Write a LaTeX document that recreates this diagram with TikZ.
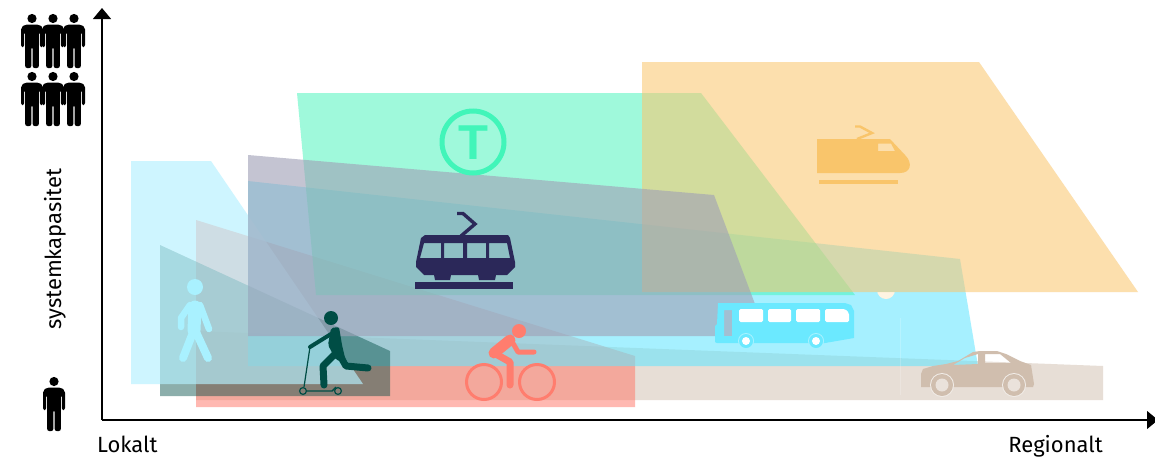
\documentclass[tikz,border=0pt]{standalone}
\usepackage{fontspec}
\setmainfont{Fira Sans}
\newfontfamily\tfont{Liberation Sans}[BoldFont={Liberation Sans Bold}]
\usetikzlibrary{arrows.meta}
\definecolor{cWalk}{RGB}{182,241,255}
\definecolor{cWalkIcon}{HTML}{A9F1FF}
\definecolor{cScoot}{HTML}{004D45}
\definecolor{cRed}{RGB}{255,115,100}
\definecolor{cRedIcon}{HTML}{FF7D6E}
\definecolor{cBeige}{HTML}{D0BEAE}
\definecolor{cBus}{RGB}{99,230,255}
\definecolor{cBusIcon}{HTML}{6BE9FF}
\definecolor{cTram}{RGB}{160,160,183}
\definecolor{cMetro}{HTML}{41F5B9}
\definecolor{cTrain}{RGB}{250,198,109}
\definecolor{cNavy}{HTML}{2B2859}
\definecolor{cIcon}{HTML}{F9C56B}
\tikzset{
  axisline/.style={line width=1.2pt,-{Triangle[width=18pt,length=11pt]}},
  lab/.style={font=\fontsize{22}{24}\selectfont,inner sep=0pt},
  person/.pic={
    \fill (0,4.5) circle[radius=4.6pt];
    \fill[rounded corners=2pt] (-7,10.5)--(7,10.5)--(11,13.5)--(11,33)--(7.8,33)--(7.8,18)--(6.8,18)--(6.8,54)--(0.7,54)--(0.6,33)--(-0.6,33)--(-0.7,54)--(-6.8,54)--(-6.8,18)--(-7.8,18)--(-7.8,33)--(-11,33)--(-11,13.5)--cycle;
  },
}
\begin{document}
\begin{tikzpicture}[x=1pt,y=-1pt]
\useasboundingbox (0,0) rectangle (1155,458);
\fill[white] (0,0) rectangle (1155,458);
% bands
\fill[cBeige,opacity=.5] (196,331)--(1103,366)--(1103,400)--(196,400)--cycle;
\fill[cRed,opacity=.5] (196,220)--(635,356)--(635,407)--(196,407)--cycle;
\fill[cBus,opacity=.57] (248,181)--(960,259)--(978,366)--(248,366)--cycle;
\fill[cScoot,opacity=.45] (160,245)--(390,351)--(390,396)--(160,396)--cycle;
\begin{scope}
\clip (800,292) rectangle (960,320);
\fill[white!80!cTrain] (886,290) circle[radius=9pt];
\end{scope}
\fill[cMetro,opacity=.5] (297,93)--(701,93)--(855,295)--(316,295)--cycle;
\fill[cTrain,opacity=.56] (642,62)--(979,62)--(1138,292)--(642,292)--cycle;
\fill[cWalk,opacity=.66] (131,161)--(211,161)--(363,384)--(131,384)--cycle;
\fill[cTram,opacity=.61] (248,155)--(714,195)--(767,336)--(248,336)--cycle;
\draw[white,opacity=.2,line width=.6pt] (900,318)--(900,395);
% axes
\coordinate (origin) at (102,420);
\coordinate (ytop) at (102,8);
\coordinate (xend) at (1158,420);
\draw[axisline] (origin)--(ytop);
\draw[axisline] (origin)--(xend);
\node[lab,anchor=base west] (lokalt) at (97,452) {Lokalt};
\node[lab,anchor=base east] (regionalt) at (1103,452) {Regionalt};
\node[lab,rotate=90,anchor=base] (syskap) at (61,249) {systemkapasitet};
% people
\begin{scope}[black]
\foreach \px in {74,32,53}{
 \pic at (\px,14) {person};
 \pic at (\px,72) {person};
}
\pic at (54,377) {person};
\end{scope}
% metro
\draw[cMetro,line width=5pt] (473,142) circle[radius=31pt];
\node[inner sep=0pt,text=cMetro,font=\fontsize{49}{49}\selectfont\tfont\bfseries] (tsign) at (473,142.5) {T};
% tram
\fill[cNavy,even odd rule]
 (425,235)--(508,235)--(510,238)--(515,262)--(515,267)--(507,275)--(496,275)--(495,280)--(479,280)--(478,275)--(451,275)--(450,280)--(435,280)--(434,275)--(424,275)--(416,267)--(416,262)--(421,238)--cycle
 (424,243)--(441,243)--(441,258)--(420,258)--cycle
 (444,243)--(463,243)--(463,258)--(444,258)--cycle
 (467,243)--(486,243)--(486,258)--(467,258)--cycle
 (489,243)--(507,243)--(510,258)--(489,258)--cycle;
\fill[cNavy] (415,282) rectangle (513,289);
\draw[cNavy,line width=3.4pt] (457,213.5)--(463,213.5)--(475,224)--(461,236);
% train
\fill[cIcon,even odd rule] (817,139)--(890,139)--(905,155) .. controls (913,163) and (911,173) .. (900,173)--(817,173)--cycle
 (878,143.5)--(891,143.5)--(895,151)--(878,151)--cycle;
\fill[cIcon] (819,180) rectangle (898,184);
\draw[cIcon,line width=2.4pt] (855,126.5)--(860,126.5)--(872,133)--(857,139);
% bus
\fill[cBusIcon,even odd rule]
 (718,303)--(845,303)--(851,305)--(854,311)--(854,338)--(825,343)--(717,343)--(715,342)--(715,326)--(717,324)--cycle
 (724,310)--(732,310)--(732,336)--(724,336)--cycle;
\fill[white,rounded corners=1.5pt] (739,309) rectangle (763,322);
\fill[white,rounded corners=1.5pt] (768,309) rectangle (791,322);
\fill[white,rounded corners=1.5pt] (796,309) rectangle (820,322);
\fill[white,rounded corners=1.5pt] (825,309)--(845,309)--(849,313)--(849,322)--(825,322)--cycle;
\foreach \wx in {746,816}{
 \fill[cBusIcon!60!white] (\wx,341) circle[radius=8pt];
 \fill[cBusIcon] (\wx,341) circle[radius=7pt];
 \fill[white] (\wx,341) circle[radius=4pt];
}
% car
\fill[cBeige,even odd rule]
 (923,369)--(933,366)--(946,364)--(958,361)--(973,352)--(980,351)--(997,351)--(1006,354)--(1020,361)--(1031,365)--(1034,384)--(1033,387)--(921,387)--(921,374)--cycle
 (953,365)--(965,358)--(978,354)--(978,364)--cycle
 (985,354)--(1000,354)--(1011,363)--(985,363)--cycle;
\foreach \wx in {942,1014}{
 \fill[white!70!cBeige] (\wx,385) circle[radius=12pt];
 \fill[cBeige] (\wx,385) circle[radius=11pt];
 \fill[white!55!cBeige] (\wx,385) circle[radius=6.5pt];
}
% bicycle
\draw[cRedIcon,line width=3pt] (484,382) circle[radius=17.5pt];
\draw[cRedIcon,line width=3pt] (537,382) circle[radius=17.5pt];
\fill[cRedIcon] (519,331) circle[radius=7pt];
\draw[cRedIcon,line width=11pt,line cap=round,line join=round] (494,353)--(510,340);
\draw[cRedIcon,line width=5pt,line cap=round,line join=round] (510,338)--(518,352)--(534,352);
\draw[cRedIcon,line width=7pt,line cap=round,line join=round] (494,353)--(510,362)--(510,385);
% scooter
\fill[cScoot] (331,318) circle[radius=7pt];
\fill[cScoot,rounded corners=2pt] (331,328)--(339,327)--(342,345)--(346,362)--(336,360)--(328,345)--cycle;
\draw[cScoot,line width=4pt,line cap=round] (331,334)--(310,347);
\draw[cScoot,line width=7pt,line cap=round,line join=round] (337,352)--(323,366)--(324,385);
\draw[cScoot,line width=7pt,line cap=round,line join=round] (338,352)--(346,366)--(368,368);
\draw[cScoot,line width=1.2pt] (310,347)--(304,387);
\draw[cScoot,line width=1.2pt] (303,391) circle[radius=3.4pt];
\draw[cScoot,line width=1.2pt] (338,391) circle[radius=3.4pt];
\draw[cScoot,line width=1.4pt] (306,391)--(332,391)--(336,387);
% walker
\fill[cWalkIcon] (195,287) circle[radius=8pt];
\draw[cWalkIcon,line width=13pt,line cap=round] (195,307)--(194,330);
\draw[cWalkIcon,line width=6.5pt,line cap=round,line join=round] (190,305)--(181,318)--(181,327);
\draw[cWalkIcon,line width=6.5pt,line cap=round] (200,305)--(209,329);
\draw[cWalkIcon,line width=8pt,line cap=round] (192,335)--(183,358);
\draw[cWalkIcon,line width=8pt,line cap=round] (196,332)--(208,358);
\end{tikzpicture}
\end{document}
